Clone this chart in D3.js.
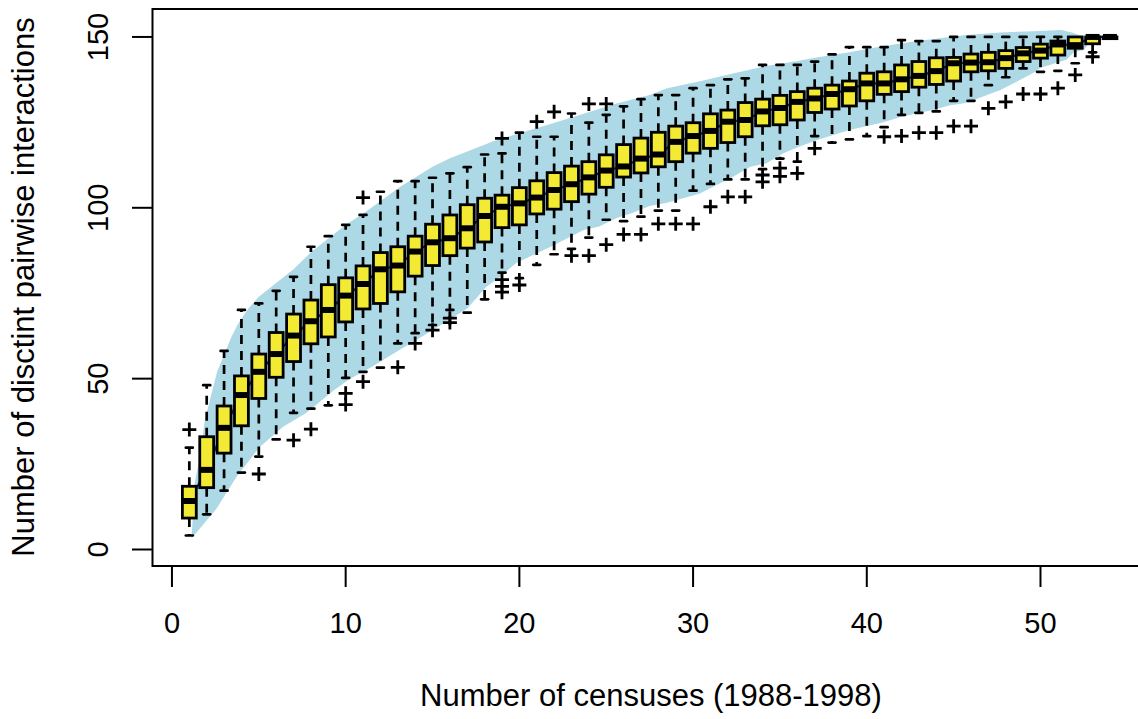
<!DOCTYPE html>
<html>
<head>
<meta charset="utf-8">
<script src="https://cdn.jsdelivr.net/npm/d3@7"></script>
<style>
  html, body { margin: 0; padding: 0; background: #fff; }
  svg { display: block; }
  text { font-family: "Liberation Sans", Arial, Helvetica, sans-serif; fill: #000; }
</style>
</head>
<body>
<svg id="chart" width="1138" height="719"></svg>
<script>
// ---------------- data ----------------
const census = [1,2,3,4,5,6,7,8,9,10,11,12,13,14,15,16,17,18,19,20,21,22,23,24,25,26,27,
  28,29,30,31,32,33,34,35,36,37,38,39,40,41,42,43,44,45,46,47,48,49,50,51,52,53,54];

const lowerWhisker = [4.1,10.3,17.2,22.5,27.2,32.2,40,41.2,42.2,50.2,52,53.2,60.3,63.3,65.7,70.1,69.3,73.2,81,79.4,
  83.3,86.4,88,91.3,96.5,96.1,97.4,99.2,99.2,105,107,108.3,108.3,111.3,114.4,113.5,121,119.1,120,121,
  123.6,127.2,127.8,128.2,131.3,131.3,135.9,138.2,140.8,139.8,140.1,142.3,145.5,149.5];
const q1 = [9.2,18.1,28.2,36.2,44.2,50.4,55,60.2,62.2,66.6,70.4,72,75.4,80,83.1,86,88.2,90,94.2,95,
  98.2,99.6,101.8,104,106,109,110.2,112,113.5,116,117.4,119.1,120.8,124,124.3,125.7,127.9,128.9,129.8,131.3,
  133.2,134,135.3,136.1,137.1,139.8,140.1,140.8,142.8,143.8,144.7,146.7,148,149.5];
const median = [14.2,23.3,35.6,45.2,52,57.2,62.6,66.8,70.1,74.3,77.7,82,83.1,87.2,89.9,91.1,94,97.6,100.3,101.3,
  103,105.2,106.9,108.9,110.9,112.1,114.4,115.6,119.3,121,122.5,125.2,125.7,128.2,129.2,131,132,133.3,134.7,136.4,
  136.4,137.6,138.6,140,142.3,142.5,142.6,143.8,145.2,146,147.8,147.6,150,150];
const q3 = [18.5,33,42,50.8,57.2,63.5,68.9,73,77.5,79.5,83,86.9,88.6,91.7,95.2,97.9,100.9,102.8,103.7,105.9,
  107.9,110.3,112.2,113.5,115.5,118.5,120.4,122.1,123.9,124.9,127.5,128.6,130.8,131.8,132.9,134,135,135.9,137.1,139.4,
  139.8,141.8,142.8,143.9,144,145,145.5,146,146.9,147.9,148.8,150,150,150];
const upperWhisker = [29.8,48.1,58.1,70.1,72,75.7,79.8,88.6,91.7,95,97.9,104.7,107.8,107.8,108.8,110.1,111.9,115.6,115.9,122,
  120.8,120.8,127.6,124.9,127.2,129.7,131.8,133,133,135,135.9,137.6,137.9,141.8,141.8,141.8,142.8,144.9,147,147,
  147,149.1,148.8,148.8,150,150,150,150,150,150,150,150,150,150];

// outliers: [census, value]
const outlierCensus = [1,5,7,8,10,10,11,11,13,14,15,16,16,19,19,19,19,20,21,22,23,24,24,25,25,26,27,28,29,30,
  31,32,33,34,34,35,35,36,37,41,42,43,44,45,46,47,48,49,50,51,52,53];
const outlierValue = [35.1,22.1,32,35.2,45.7,42.4,103,49.1,53.3,60.3,64.2,67.7,66.4,120.3,79,77,75.3,77.4,125.2,128.1,
  86,130.4,86,130.4,89.2,92.2,92.2,95.3,95.3,95.3,100.3,103.2,103.2,109.6,107.6,111.6,109.2,110.1,117.4,120.8,
  121,122,122,123.9,123.9,129.1,131,133.3,133.3,135,138.9,144.2];

// shaded envelope: upper edge (left to right) and lower edge (left to right)
const bandUpperX = [1.13,1.3,1.6,1.9,2.3,2.6,3.0,3.4,3.8,4.4,5,6,7,8,9,10,11.2,13.1,15,16,17,18.5,19.8,21.8,23.7,
  25.6,27.5,28.5,30.4,32.3,34.2,36.1,37.1,39,40.9,42.9,44.8,45.7,47.7,49.6,51.2,51.8,52.8,53.1];
const bandUpperY = [3.3,19,27,38,46,52,57,62,66,70.5,74,78,82,87,91,95,99,106,112,114.5,116.5,119.5,121.5,124.5,127.5,
  130.5,133,135,137,139.3,141.5,143,144,145.5,147.3,148.8,150,150.6,151.3,151.7,152,151.3,149.6,148.8];
const bandLowerX = [1.13,1.5,2.57,3.72,5.07,6.4,7.75,9.3,10.25,11.2,13.1,15,17,18.1,18.9,19.8,21.8,23.7,24.6,25.6,
  26.5,27.5,28.5,30.4,32.3,33.3,34.2,35.2,36.1,37.1,39,40.9,41.9,42.9,43.8,44.8,45.7,47.7,49.6,50,51.5,51.9,52.5,52.8,53.1];
const bandLowerY = [3.3,5.5,12,21.3,30.1,35.9,40,46.5,50,52.5,58.4,64.2,70.5,76.9,79.8,83.8,88.6,93.5,94.5,97,
  98.5,100.5,101.5,104.2,109.1,112,113,116,117.9,119.8,122.8,125,126.5,127.7,128.6,130,130.7,134.5,139.5,141,143.3,145.5,146.2,148.3,148.8];

const xTicks = [0,10,20,30,40,50];
const yTicks = [0,50,100,150];
const xTitle = "Number of censuses (1988-1998)";
const yTitle = "Number of disctint pairwise interactions";

// ---------------- drawing ----------------
const svg = d3.select("#chart");
const x = d3.scaleLinear().domain([-1.12, 56.12]).range([152.5, 1146.8]);
const y = d3.scaleLinear().domain([-4.83, 158.18]).range([566, 9]);

const boxHalf = (x(0.8) - x(0)) / 2;
const capHalf = boxHalf / 2;

// envelope
const upperPts = bandUpperX.map((v, i) => [v, bandUpperY[i]]);
const lowerPts = bandLowerX.map((v, i) => [v, bandLowerY[i]]).reverse();
const poly = upperPts.concat(lowerPts);
svg.append("path")
  .attr("d", d3.line().x(d => x(d[0])).y(d => y(d[1]))(poly) + "Z")
  .attr("fill", "#ADD8E6")
  .attr("stroke", "none");

// median trend line
svg.append("path")
  .attr("d", d3.line().x((d, i) => x(census[i])).y(d => y(d))(median))
  .attr("fill", "none")
  .attr("stroke", "#1b1f8a")
  .attr("stroke-width", 2.2);

const g = svg.append("g");
census.forEach((c, i) => {
  const cx = x(c);
  // whiskers dashed
  [[q3[i], upperWhisker[i]], [q1[i], lowerWhisker[i]]].forEach(([a, b]) => {
    if (a !== b) {
      g.append("line")
        .attr("x1", cx).attr("x2", cx)
        .attr("y1", y(a)).attr("y2", y(b))
        .attr("stroke", "#000").attr("stroke-width", 2.7)
        .attr("stroke-dasharray", "9,7");
      g.append("line")
        .attr("x1", cx - capHalf).attr("x2", cx + capHalf)
        .attr("y1", y(b)).attr("y2", y(b))
        .attr("stroke", "#000").attr("stroke-width", 2.7)
        .attr("stroke-linecap", "round");
    }
  });
  // box
  g.append("rect")
    .attr("x", cx - boxHalf)
    .attr("y", y(q3[i]))
    .attr("width", 2 * boxHalf)
    .attr("height", Math.max(0.5, y(q1[i]) - y(q3[i])))
    .attr("fill", "#F2EA33")
    .attr("stroke", "#000")
    .attr("stroke-width", 2.8);
  // median
  g.append("line")
    .attr("x1", cx - boxHalf).attr("x2", cx + boxHalf)
    .attr("y1", y(median[i])).attr("y2", y(median[i]))
    .attr("stroke", "#000").attr("stroke-width", 6);
});

// outliers (+)
const plus = 7;
outlierCensus.forEach((c, i) => {
  const px = x(c), py = y(outlierValue[i]);
  g.append("path")
    .attr("d", `M${px - plus},${py}H${px + plus}M${px},${py - plus}V${py + plus}`)
    .attr("stroke", "#000").attr("stroke-width", 2.8).attr("fill", "none");
});

// frame
svg.append("rect")
  .attr("x", 152.5).attr("y", 9)
  .attr("width", 1146.8 - 152.5).attr("height", 566 - 9)
  .attr("fill", "none").attr("stroke", "#000").attr("stroke-width", 2);

// x axis
const xa = svg.append("g");
xTicks.forEach(t => {
  xa.append("line").attr("x1", x(t)).attr("x2", x(t)).attr("y1", 566).attr("y2", 587)
    .attr("stroke", "#000").attr("stroke-width", 2);
  xa.append("text").attr("x", x(t)).attr("y", 633).attr("text-anchor", "middle")
    .attr("font-size", 29).text(t);
});
// y axis
const ya = svg.append("g");
yTicks.forEach(t => {
  ya.append("line").attr("x1", 152.5).attr("x2", 132).attr("y1", y(t)).attr("y2", y(t))
    .attr("stroke", "#000").attr("stroke-width", 2);
  ya.append("text").attr("transform", `translate(108,${y(t)}) rotate(-90)`)
    .attr("text-anchor", "middle").attr("font-size", 29).text(t);
});

// titles
svg.append("text").attr("x", 651).attr("y", 706).attr("text-anchor", "middle")
  .attr("font-size", 31).text(xTitle);
svg.append("text").attr("transform", `translate(34,${287}) rotate(-90)`)
  .attr("text-anchor", "middle").attr("font-size", 31).text(yTitle);
</script>
</body>
</html>
